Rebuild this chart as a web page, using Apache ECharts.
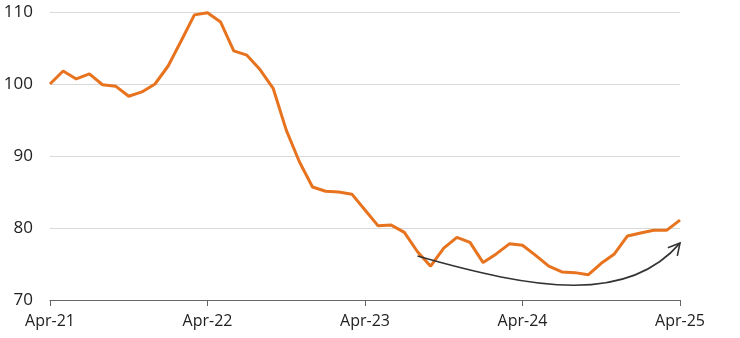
<!DOCTYPE html>
<html>
<head>
<meta charset="utf-8">
<script src="https://cdn.jsdelivr.net/npm/echarts@6/dist/echarts.min.js"></script>
<style>
html,body{margin:0;padding:0;background:#fff;}
#chart{width:740px;height:338px;}
</style>
</head>
<body>
<div id="chart"></div>
<script>
// Monthly categories Apr-21 .. Apr-25
const months = ['Jan','Feb','Mar','Apr','May','Jun','Jul','Aug','Sep','Oct','Nov','Dec'];
const categories = [];
for (let y = 21; y <= 25; y++) {
  for (let m = 0; m < 12; m++) {
    if ((y === 21 && m < 3) || (y === 25 && m > 3)) continue;
    categories.push(months[m] + '-' + y);
  }
}
const values = [
  100.0, 101.8, 100.7, 101.4, 99.9, 99.7, 98.3, 98.9, 100.0, 102.5, 106.0, 109.6,
  109.9, 108.6, 104.6, 104.0, 102.0, 99.4, 93.6, 89.2, 85.7, 85.1, 85.0, 84.7,
  82.5, 80.3, 80.4, 79.4, 76.7, 74.7, 77.2, 78.7, 78.0, 75.2, 76.4, 77.8,
  77.6, 76.2, 74.7, 73.9, 73.8, 73.5, 75.1, 76.4, 78.9, 79.3, 79.7, 79.7,
  81.1
];
const yTicks = [70, 80, 90, 100, 110];
// Annotation arrow: cubic bezier in data units [category index, value]
const arrowPoints = [[27.66, 76.1], [36.6, 71.4], [44.3, 69.4], [48.23, 77.9]];

const chart = echarts.init(document.getElementById('chart'));
const font = '"Open Sans", "Noto Sans", sans-serif';
chart.setOption({
  animation: false,
  grid: { left: 50, right: 60, top: 12, bottom: 38, containLabel: false },
  xAxis: {
    type: 'category',
    data: categories,
    boundaryGap: false,
    axisLine: { show: true, lineStyle: { color: '#666', width: 1 } },
    axisTick: { show: true, interval: 11, length: 6, lineStyle: { color: '#666' } },
    axisLabel: {
      interval: 11, margin: 13, color: '#222', fontSize: 16, fontFamily: font
    },
    splitLine: { show: false }
  },
  yAxis: {
    type: 'value',
    min: yTicks[0], max: yTicks[yTicks.length - 1], interval: 10,
    axisLine: { show: false },
    axisTick: { show: false },
    axisLabel: { margin: 17, color: '#222', fontSize: 17, fontFamily: font },
    splitLine: { show: true, lineStyle: { color: '#d9d9d9', width: 1 } }
  },
  series: [
    {
      type: 'line',
      data: values,
      symbol: 'none',
      lineStyle: { color: '#E8731F', width: 3 },
      itemStyle: { color: '#E8731F' },
      z: 3
    },
    {
      type: 'custom',
      data: [0],
      silent: true,
      z: 4,
      renderItem: function (params, api) {
        const p = arrowPoints.map(function (d) { return api.coord(d); });
        const dx = p[3][0] - p[2][0], dy = p[3][1] - p[2][1];
        const ang = Math.atan2(dy, dx);
        const ah = 13, spread = 0.5;
        const a1 = [p[3][0] - ah * Math.cos(ang - spread), p[3][1] - ah * Math.sin(ang - spread)];
        const a2 = [p[3][0] - ah * Math.cos(ang + spread), p[3][1] - ah * Math.sin(ang + spread)];
        return {
          type: 'group',
          children: [
            {
              type: 'bezierCurve',
              shape: {
                x1: p[0][0], y1: p[0][1],
                cpx1: p[1][0], cpy1: p[1][1],
                cpx2: p[2][0], cpy2: p[2][1],
                x2: p[3][0], y2: p[3][1]
              },
              style: { stroke: '#333', lineWidth: 1.6, fill: null }
            },
            {
              type: 'polyline',
              shape: { points: [a1, p[3], a2] },
              style: { stroke: '#333', lineWidth: 1.6, fill: null }
            }
          ]
        };
      }
    }
  ]
});
</script>
</body>
</html>
